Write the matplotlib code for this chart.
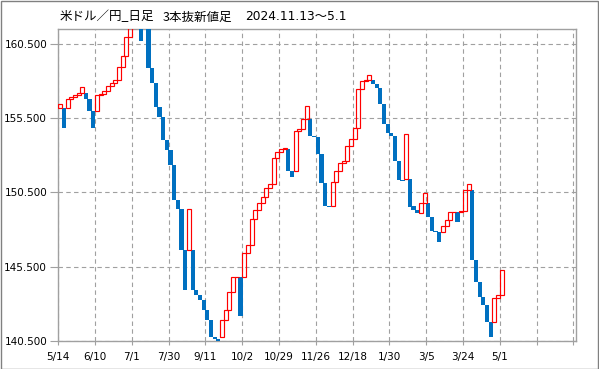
import matplotlib
matplotlib.use('Agg')
import matplotlib.pyplot as plt
import numpy as np
from matplotlib.patches import Rectangle

# 3-line break bars: open / close (JPY per USD), one bar per step
bar_open = [
    156.17, 156.17, 156.17, 156.78, 156.95, 157.07, 157.22, 157.22, 156.78, 156.01,
    156.01, 157.05, 157.13, 157.36, 157.69, 157.89, 158.08, 158.97, 159.69, 160.99,
    161.60, 161.70, 161.70, 161.70, 161.70, 158.86, 157.85, 156.24, 155.60, 154.04,
    153.36, 152.35, 149.99, 149.39, 146.63, 146.63, 146.63, 143.93, 143.60, 143.26,
    142.59, 141.91, 140.77, 140.62, 140.77, 141.91, 142.59, 143.82, 144.79, 144.79,
    144.79, 146.41, 146.97, 148.70, 149.32, 149.77, 150.22, 150.78, 151.07, 152.80,
    153.25, 153.41, 153.41, 151.97, 151.97, 154.66, 154.74, 155.43, 155.43, 154.30,
    154.22, 153.07, 151.12, 149.59, 149.59, 151.21, 151.95, 152.47, 152.64, 153.63,
    154.08, 154.82, 157.45, 158.01, 158.08, 158.08, 157.81, 157.52, 156.44, 155.09,
    154.49, 154.30, 152.64, 151.34, 151.39, 151.39, 149.59, 149.32, 149.10, 149.77,
    149.77, 148.83, 147.93, 147.84, 147.84, 148.24, 148.65, 149.17, 149.17, 149.17,
    149.27, 150.67, 150.67, 145.96, 144.49, 143.48, 142.92, 141.80, 141.80, 143.38,
    143.60,
]
bar_close = [
    156.44, 154.82, 156.78, 156.95, 157.07, 157.22, 157.62, 156.78, 156.01, 154.82,
    157.05, 157.13, 157.36, 157.69, 157.89, 158.08, 158.97, 159.69, 160.99, 161.60,
    161.70, 161.80, 160.72, 161.85, 158.86, 157.85, 156.24, 155.60, 154.04, 153.36,
    152.35, 149.99, 149.39, 146.63, 143.93, 149.39, 143.93, 143.60, 143.26, 142.59,
    141.91, 140.77, 140.62, 140.30, 141.91, 142.59, 143.82, 144.79, 144.83, 142.18,
    146.41, 146.97, 148.70, 149.32, 149.77, 150.22, 150.78, 151.07, 152.80, 153.25,
    153.41, 153.46, 151.97, 151.56, 154.66, 154.74, 155.43, 156.29, 154.30, 154.22,
    153.07, 151.12, 149.59, 149.50, 151.21, 151.95, 152.47, 152.64, 153.63, 154.08,
    154.82, 157.45, 158.01, 158.08, 158.41, 157.81, 157.52, 156.44, 155.09, 154.49,
    154.30, 152.64, 151.34, 151.30, 154.44, 149.54, 149.32, 149.10, 149.77, 150.45,
    148.83, 147.93, 147.84, 147.19, 148.24, 148.65, 149.17, 149.21, 148.53, 149.27,
    150.67, 151.05, 145.96, 144.49, 143.48, 142.92, 141.80, 140.79, 143.38, 143.60,
    145.28,
]
date_labels = ["5/14", "6/10", "7/1", "7/30", "9/11", "10/2", "10/29",
               "11/26", "12/18", "1/30", "3/5", "3/24", "5/1", "", ""]
y_ticks = [140.5, 145.5, 150.5, 155.5, 160.5]

W, H = 599, 369
fig = plt.figure(figsize=(W / 100, H / 100), dpi=100)
fig.patch.set_facecolor("white")
fig.patches.append(Rectangle((0.5 / W, 0.5 / H), 1 - 1.5 / W, 1 - 1.5 / H,
                             transform=fig.transFigure, fill=False,
                             edgecolor="#808080", lw=1))

left, right, top, bottom = 58.2, 576, 29, 341
ax = fig.add_axes([left / W, 1 - bottom / H, (right - left) / W, (bottom - top) / H])

opens = np.array(bar_open)
closes = np.array(bar_close)
x = np.arange(len(opens))
up = closes >= opens
lo = np.minimum(opens, closes)
hi = np.maximum(opens, closes)

ax.bar(x[~up] - 0.05, (hi - lo)[~up], bottom=lo[~up], width=1.15, align="edge",
       color="#0070c0", linewidth=0, zorder=3)
ax.bar(x[up], (hi - lo)[up], bottom=lo[up], width=1.08, align="edge",
       facecolor="none", edgecolor="#ff0000", linewidth=0.85, zorder=4)

ax.set_xlim(0, 140.7)
ax.set_ylim(140.5, 161.5)

xt = np.arange(0, 141, 10)
ax.set_xticks(xt)
ax.set_xticklabels(date_labels, fontsize=7.5, family="DejaVu Sans")
ax.set_yticks(y_ticks)
ax.set_yticklabels([f"{v:.3f}" for v in y_ticks], fontsize=7.5, family="DejaVu Sans")
ax.tick_params(axis="x", length=3, color="#a0a0a0", pad=5)
ax.tick_params(axis="y", length=6, color="#a0a0a0", pad=2)

ax.grid(True, color="#a0a0a0", linestyle=(0, (4, 3)), linewidth=0.8, zorder=0)
ax.set_axisbelow(True)
for s in ax.spines.values():
    s.set_color("#a0a0a0")
    s.set_linewidth(1)

jp = ["Noto Sans CJK JP", "DejaVu Sans"]
fig.text(60 / W, 1 - 17 / H, "米ドル／円_日足", fontsize=9, family=jp, va="center")
fig.text(163 / W, 1 - 17 / H, "3本抜新値足", fontsize=9, family=jp, va="center")
fig.text(245 / W, 1 - 17 / H, "2024.11.13～5.1", fontsize=8.8,
         family=["DejaVu Sans", "Noto Sans CJK JP"], va="center")

fig.savefig("out.png", dpi=100)
plt.close(fig)
